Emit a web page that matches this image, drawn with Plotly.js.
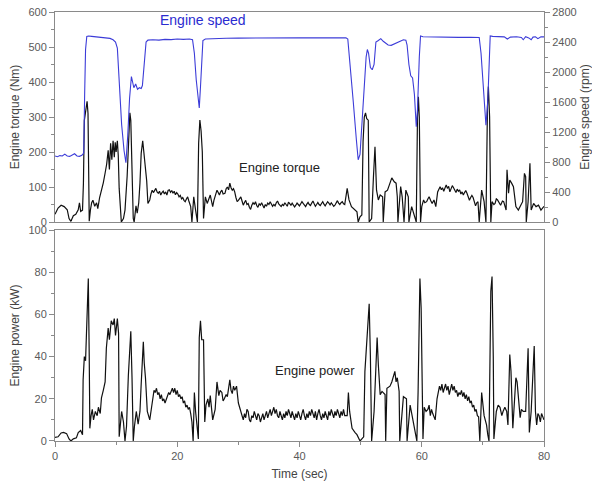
<!DOCTYPE html>
<html>
<head>
<meta charset="utf-8">
<script src="https://cdn.plot.ly/plotly-3.0.1.min.js"></script>
<style>html,body{margin:0;padding:0;background:#fff;}#chart{width:592px;height:488px;}</style>
</head>
<body>
<div id="chart"></div>
<script>
// Engine torque (Nm): [time (s), value]
const torquePoints = [
[0,22],[0.5,40],[1.0,48],[1.5,44],[2.0,35],[2.3,10],[2.6,2],[3.0,18],[3.4,22],[3.8,35],[4.0,55],[4.2,30],[4.5,34],[4.65,110],[4.8,290],[5.0,320],[5.1,335],[5.25,345],[5.4,310],[5.5,120],[5.6,2],[5.8,35],[6.0,55],[6.2,62],[6.5,45],[6.8,55],[7.0,38],[7.3,70],[7.6,90],[7.9,112],[8.2,140],[8.45,165],[8.7,205],[8.9,150],[9.1,225],[9.3,178],[9.5,232],[9.7,185],[9.85,228],[10.0,200],[10.2,232],[10.35,190],[10.5,96],[10.7,30],[10.85,0],[11.2,10],[11.45,34],[11.8,130],[12.1,244],[12.25,312],[12.4,290],[12.6,177],[12.8,10],[12.95,0],[13.25,46],[13.45,25],[13.7,55],[13.9,111],[14.1,196],[14.35,232],[14.55,196],[14.8,139],[15.0,118],[15.2,53],
[15.5,63],[15.7,80],[15.9,91],[16.1,84],[16.3,90],[16.5,96],[16.7,86],[16.9,82],[17.1,88],[17.3,77],[17.5,84],[17.7,88],[17.9,80],[18.1,86],[18.3,77],[18.5,90],[18.7,92],[18.9,85],[19.1,90],[19.3,82],[19.5,88],[19.7,78],[19.9,84],[20.1,80],[20.3,72],[20.5,76],[20.7,66],[20.9,70],[21.1,62],[21.3,58],[21.5,66],[21.7,72],[21.9,60],[22.1,52],[22.2,44],
[22.4,0],[22.7,72],[23.0,34],[23.3,0],[23.5,225],[23.7,291],[23.9,260],[24.1,200],[24.3,10],[24.6,72],[24.9,53],[25.2,66],[25.4,77],[25.6,60],[25.8,44],[26.0,62],[26.2,77],[26.5,91],[26.7,84],[26.9,77],[27.1,86],[27.3,91],[27.5,80],[27.8,82],[28.0,95],[28.2,100],[28.4,92],[28.6,111],[28.8,98],[29.0,91],[29.2,95],[29.4,86],[29.6,70],[29.8,58],[30.0,62],
[30.2,66],[30.4,72],[30.6,60],[30.8,48],[31.0,56],[31.2,62],[31.4,50],[31.6,53],[31.8,42],[32.0,36],[32.2,48],[32.4,55],[32.6,50],[32.8,58],[33.0,47],[33.2,42],[33.4,52],[33.6,48],[33.8,55],[34.0,46],[34.2,40],[34.4,50],[34.6,45],[34.8,54],[35.0,50],[35.2,58],[35.4,52],[35.6,45],[35.8,50],[36.0,46],[36.2,55],[36.4,60],[36.6,52],[36.8,48],[37.0,44],[37.2,50],[37.4,47],[37.6,55],[37.8,49],[38.0,45],[38.2,57],[38.4,52],[38.6,48],[38.8,54],[39.0,50],[39.2,43],[39.4,48],[39.6,54],[39.8,50],[40.0,46],[40.2,52],[40.4,58],[40.6,53],[40.8,47],[41.0,44],[41.2,51],[41.4,56],[41.6,50],[41.8,47],[42.0,54],[42.2,60],[42.4,52],[42.6,45],[42.8,50],[43.0,56],[43.2,50],[43.4,47],[43.6,53],[43.8,58],[44.0,51],[44.2,46],[44.4,52],[44.6,58],[44.8,54],[45.0,49],[45.2,55],[45.4,51],[45.6,45],[45.8,48],[46.0,56],[46.2,61],[46.4,54],[46.6,50],[46.8,55],[47.0,58],[47.2,52],[47.4,50],
[47.8,96],[48.1,63],[48.5,44],[49.1,34],[49.4,29],[49.6,0],[49.9,15],[50.2,20],[50.4,230],[50.6,300],[50.8,312],[51.0,295],[51.25,291],[51.4,0],[51.8,10],[52.1,130],[52.35,215],[52.6,91],[52.9,63],[53.2,77],[53.6,72],[53.7,0],[54.0,86],[54.4,91],[54.8,111],[55.1,126],[55.5,115],[55.8,111],[56.0,72],[56.1,0],[56.55,101],[56.8,72],[57.1,0],[57.4,91],[57.8,72],[57.9,0],[58.35,44],[58.7,25],[59.1,0],[59.3,300],[59.45,358],[59.6,300],[59.8,0],[60.0,44],[60.3,63],[60.5,55],[60.8,58],[61.0,66],[61.2,72],[61.5,60],[61.7,53],[62.0,63],[62.3,44],
[62.6,86],[62.8,95],[63.0,101],[63.2,92],[63.4,98],[63.6,88],[63.8,100],[64.0,106],[64.2,96],[64.4,102],[64.6,86],[64.8,95],[65.0,104],[65.2,98],[65.4,90],[65.6,84],[65.8,94],[66.0,88],[66.2,92],[66.4,80],[66.6,86],[66.8,77],[67.0,84],[67.2,90],[67.4,82],[67.6,74],[67.8,62],[68.0,70],[68.2,76],[68.4,70],[68.6,58],[68.8,46],[69.0,55],[69.2,58],[69.4,0],
[69.8,91],[70.2,58],[70.5,0],[70.75,330],[70.9,387],[71.1,300],[71.3,0],[71.5,58],[71.8,50],[72.0,53],[72.2,66],[72.4,63],[72.7,52],[72.9,48],[73.2,60],[73.4,58],[73.8,34],[73.95,149],[74.2,82],[74.4,120],[74.7,111],[75.0,101],[75.4,44],[75.8,34],[76.2,48],[76.5,58],[76.8,139],[77.0,130],[77.1,0],[77.4,58],[77.7,168],[77.9,34],[78.3,53],[78.7,44],[79.1,48],[79.5,34],[80.0,45]
];

// Engine speed (rpm): [time (s), value]
const speedPoints = [
[0,880],[0.4,870],[0.8,885],[1.2,880],[1.6,905],[2.0,880],[2.4,875],[2.8,895],[3.2,910],[3.6,880],[4.0,875],[4.4,890],[4.7,920],[4.85,1700],[5.0,2300],[5.2,2475],[5.5,2480],[6.0,2475],[6.5,2470],[7.0,2465],[7.5,2468],[8.0,2460],[8.5,2450],[9.0,2448],[9.5,2430],[9.9,2400],[10.2,2320],[10.5,1900],[10.9,1300],[11.3,950],[11.6,790],[11.9,1150],[12.2,1650],[12.5,1940],[12.7,1880],[12.9,1790],[13.2,1840],[13.5,1770],[13.8,1790],[14.1,1780],[14.3,1820],[14.6,2150],[14.9,2400],[15.2,2425],[16.0,2430],[17.0,2425],[18.0,2435],[19.0,2432],[20.0,2440],[21.0,2435],[22.0,2440],[22.5,2430],[22.8,2250],[23.1,1900],[23.4,1600],[23.6,1520],[23.8,1800],[24.0,2200],[24.2,2420],[24.6,2440],[25.5,2440],[26.5,2445],[28.0,2450],[30.0,2452],[33.0,2455],[36.0,2455],[40.0,2455],[44.0,2455],[47.6,2455],[47.9,2440],[48.3,2100],[48.8,1600],[49.3,1100],[49.6,830],[49.9,900],[50.3,1400],[50.6,1900],[50.9,2200],[51.1,2300],[51.3,2250],[51.6,2060],[51.9,2030],[52.2,2100],[52.5,2400],[52.9,2420],[53.3,2445],[53.7,2410],[54.1,2380],[54.5,2360],[55.0,2355],[55.5,2375],[56.0,2400],[56.5,2415],[57.0,2430],[57.4,2425],[57.6,2360],[57.9,2100],[58.2,1950],[58.5,1920],[58.8,1700],[59.1,1270],[59.3,1500],[59.6,2200],[59.8,2480],[60.2,2470],[61.0,2468],[62.0,2465],[63.0,2463],[64.0,2465],[66.0,2462],[68.0,2462],[69.4,2460],[69.7,2250],[70.0,1850],[70.3,1500],[70.5,1290],[70.8,1600],[71.0,2100],[71.2,2480],[71.6,2475],[72.5,2470],[73.5,2468],[74.0,2440],[74.5,2465],[75.5,2470],[76.3,2460],[76.6,2430],[77.0,2470],[77.5,2455],[77.9,2430],[78.2,2465],[78.6,2470],[79.0,2445],[79.5,2470],[80.0,2468]
];

// Engine power (kW): [time (s), value]
const powerPoints = [
[0,1.7],[0.5,2],[1.0,3.8],[1.4,4.1],[1.9,3.5],[2.3,1],[2.6,0],[3.0,1],[3.5,1.5],[3.8,4],[4.2,5],[4.5,3],[4.6,29],[4.8,40],[5.0,38],[5.2,60],[5.45,77],[5.6,40],[5.7,6],[5.9,12],[6.1,15],[6.3,10],[6.6,14],[6.9,12],[7.1,16],[7.4,13],[7.6,20.5],[7.9,24],[8.2,28],[8.4,44],[8.7,53.5],[8.9,48],[9.2,57],[9.5,55],[9.7,58],[9.9,50],[10.2,58],[10.4,51],[10.5,2],[10.9,14],[11.2,9],[11.45,0],[11.7,7],[12.0,31],[12.3,50],[12.4,52],[12.6,30],[12.8,0],[13.0,7],[13.3,14],[13.6,8],[13.9,14],[14.1,27],[14.45,47],[14.6,37],[14.8,30],[15.1,14],[15.5,10],
[15.8,16],[16.0,21],[16.2,24],[16.4,23],[16.6,25],[16.8,22],[17.0,23],[17.2,20],[17.4,22],[17.6,19],[17.8,20],[18.0,18],[18.2,20],[18.4,21],[18.6,23],[18.8,22],[19.0,24],[19.2,25],[19.4,23],[19.6,25],[19.8,22],[20.0,24],[20.2,21],[20.4,22],[20.6,20],[20.8,21],[21.0,18],[21.2,19],[21.4,16],[21.6,17],[21.8,15],[22.0,16],[22.2,13],[22.4,9],
[22.6,0],[22.8,23],[23.0,14],[23.2,8],[23.45,1],[23.6,49],[23.8,57],[24.0,48],[24.3,48],[24.5,9],[24.7,17],[25.0,20],[25.2,16],[25.4,21.5],[25.8,10],[26.2,15],[26.5,28],[26.8,21.5],[27.0,24],[27.3,23],[27.5,19],[27.7,20],[28.0,22],[28.2,21],[28.35,25],[28.6,29],[28.8,24],[29.0,22.5],[29.2,26],[29.4,24],[29.7,26],
[30.0,18],[30.2,16],[30.4,14],[30.6,12],[30.8,10],[31.0,13],[31.2,11],[31.4,15],[31.6,14],[31.8,10],[32.0,9],[32.2,12],[32.4,11],[32.6,14],[32.8,12],[33.0,10],[33.2,13],[33.4,12],[33.6,9],[33.8,11],[34.0,13],[34.2,10],[34.4,12],[34.6,14],[34.8,11],[35.0,13],[35.2,15],[35.4,12],[35.6,14],[35.8,16],[36.0,13],[36.2,15],[36.4,12],[36.6,11],[36.8,14],[37.0,12],[37.2,10],[37.4,13],[37.6,11],[37.8,14],[38.0,12],[38.2,15],[38.4,13],[38.6,11],[38.8,14],[39.0,12],[39.2,10],[39.4,13],[39.6,11],[39.8,14],[40.0,12],[40.2,10],[40.4,13],[40.6,15],[40.8,12],[41.0,10],[41.2,13],[41.4,11],[41.6,14],[41.8,12],[42.0,15],[42.2,13],[42.4,11],[42.6,14],[42.8,10],[43.0,13],[43.2,15],[43.4,12],[43.6,10],[43.8,13],[44.0,11],[44.2,14],[44.4,12],[44.6,10],[44.8,14],[45.0,12],[45.2,15],[45.4,13],[45.6,11],[45.8,14],[46.0,12],[46.2,15],[46.4,13],[46.6,11],[46.8,14],[47.0,12],[47.2,15],[47.4,12],
[47.8,12],[48.0,23],[48.2,14],[48.6,6],[49.1,4],[49.4,3],[49.9,0],[50.2,1],[50.5,2],[50.7,33],[51.0,48],[51.3,60],[51.4,65],[51.6,40],[51.8,0],[52.2,14],[52.5,35],[52.7,49],[52.9,36],[53.2,22],[53.5,23.5],[54.0,22],[54.1,0],[54.3,25],[54.8,26],[55.1,28],[55.6,33],[55.8,28],[56.0,30],[56.3,23.5],[56.4,0],[57.0,21],[57.5,20],[57.6,0],[58.1,17],[58.6,9],[59.0,3],[59.2,0],[59.4,23],[59.7,77],[59.9,63],[60.2,1],[60.4,16],[60.7,14],[61.0,15],[61.2,17],[61.4,12],[61.6,15],[61.8,13],[62.0,11],[62.2,10],
[62.5,20],[62.7,23],[62.9,26],[63.1,24],[63.3,27],[63.5,23],[63.7,25],[63.9,27],[64.1,24],[64.3,26],[64.5,22],[64.7,25],[64.9,27],[65.1,24],[65.3,26],[65.5,23],[65.7,24],[65.9,21],[66.1,23],[66.3,22],[66.5,24],[66.7,21],[66.9,23],[67.1,20],[67.3,22],[67.5,19],[67.7,21],[67.9,18],[68.1,19],[68.3,16],[68.5,17],[68.7,14],[68.9,15],[69.1,12],[69.3,11.5],[69.5,0],
[69.8,23],[70.2,12],[70.6,7.6],[70.8,3],[71.0,0],[71.3,71],[71.5,78],[71.7,40],[71.8,1],[72.2,14],[72.5,17],[72.8,16],[73.1,12],[73.3,14],[73.6,16],[73.9,14],[74.1,7.6],[74.4,41],[74.6,33],[74.9,6],[75.4,30],[75.6,28],[75.8,20],[76.1,11],[76.3,15],[76.6,14],[77.0,14],[77.4,44],[77.6,4],[77.9,14],[78.4,45],[78.6,14],[78.8,7.6],[79.0,13],[79.2,12],[79.4,9],[79.6,13],[80.0,10]
];

const font = 'Liberation Sans, Arial, sans-serif';
const axBase = {
  showline: true, linecolor: '#8a8a8a', linewidth: 1,
  ticks: 'outside', ticklen: 5, tickcolor: '#8a8a8a',
  tickfont: {family: font, size: 11, color: '#5a5a5a'},
  showgrid: false, zeroline: false
};
const titleFont = {family: font, size: 12, color: '#444'};

const traces = [
  {x: torquePoints.map(p => p[0]), y: torquePoints.map(p => p[1]), xaxis: 'x', yaxis: 'y',
   type: 'scatter', mode: 'lines', line: {color: '#111', width: 1.2}, hoverinfo: 'skip'},
  {x: speedPoints.map(p => p[0]), y: speedPoints.map(p => p[1]), xaxis: 'x', yaxis: 'y2',
   type: 'scatter', mode: 'lines', line: {color: '#3c3cd8', width: 1.1}, hoverinfo: 'skip'},
  {x: powerPoints.map(p => p[0]), y: powerPoints.map(p => p[1]), xaxis: 'x2', yaxis: 'y3',
   type: 'scatter', mode: 'lines', line: {color: '#111', width: 1.2}, hoverinfo: 'skip'}
];

const layout = {
  width: 592, height: 488,
  margin: {l: 55, r: 48, t: 12, b: 47},
  paper_bgcolor: '#fff', plot_bgcolor: '#fff',
  showlegend: false,
  font: {family: font, color: '#444'},
  xaxis: Object.assign({}, axBase, {
    domain: [0, 1], anchor: 'y', range: [0, 80], dtick: 20,
    showticklabels: false, ticks: '', mirror: true
  }),
  yaxis: Object.assign({}, axBase, {
    domain: [0.5105, 1], anchor: 'x', range: [0, 600], dtick: 100,
    minor: {dtick: 50, ticks: 'outside', ticklen: 3, tickcolor: '#8a8a8a'},
    title: {text: 'Engine torque (Nm)', font: titleFont, standoff: 6}
  }),
  yaxis2: Object.assign({}, axBase, {
    overlaying: 'y', side: 'right', anchor: 'x', range: [0, 2800], dtick: 400,
    minor: {dtick: 200, ticks: 'outside', ticklen: 3, tickcolor: '#8a8a8a'},
    title: {text: 'Engine speed (rpm)', font: titleFont, standoff: 6}
  }),
  xaxis2: Object.assign({}, axBase, {
    domain: [0, 1], anchor: 'y3', range: [0, 80], dtick: 20, mirror: true,
    minor: {dtick: 10, ticks: 'outside', ticklen: 3, tickcolor: '#8a8a8a'},
    title: {text: 'Time (sec)', font: titleFont, standoff: 8}
  }),
  yaxis3: Object.assign({}, axBase, {
    domain: [0, 0.4918], anchor: 'x2', range: [0, 100], dtick: 20, mirror: true,
    minor: {dtick: 10, ticks: 'outside', ticklen: 3, tickcolor: '#8a8a8a'},
    title: {text: 'Engine power (kW)', font: titleFont, standoff: 6}
  }),
  annotations: [
    {text: 'Engine speed', xref: 'x', yref: 'y2', x: 24.2, y: 2690, showarrow: false,
     font: {family: font, size: 14, color: '#2b2bd0'}},
    {text: 'Engine torque', xref: 'x', yref: 'y', x: 36.8, y: 157, showarrow: false,
     font: {family: font, size: 13, color: '#222'}},
    {text: 'Engine power', xref: 'x2', yref: 'y3', x: 42.5, y: 33.6, showarrow: false,
     font: {family: font, size: 13, color: '#222'}}
  ]
};

Plotly.newPlot('chart', traces, layout, {displayModeBar: false, staticPlot: true});
</script>
</body>
</html>
